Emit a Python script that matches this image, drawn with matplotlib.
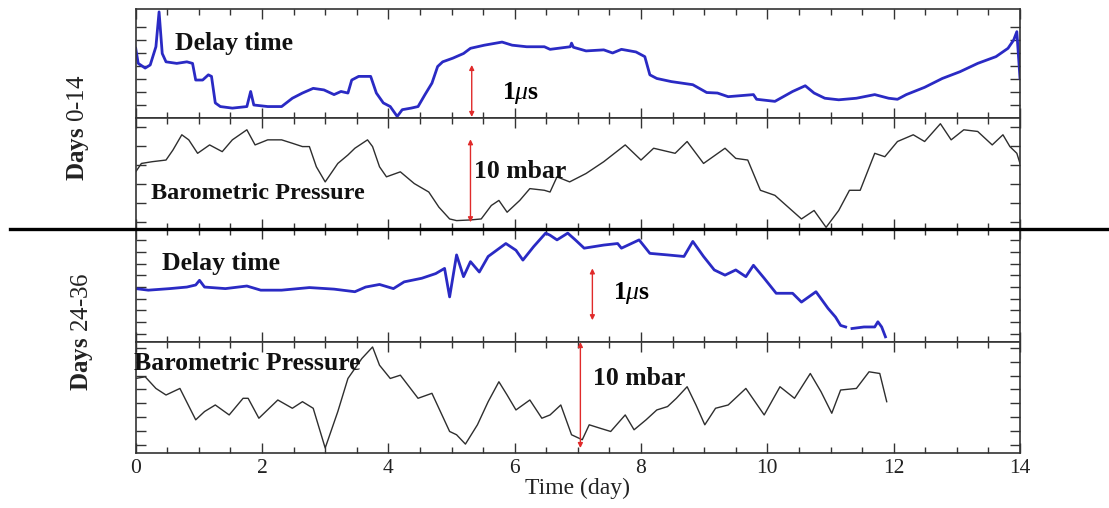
import numpy as np
import matplotlib
matplotlib.use("Agg")
import matplotlib.pyplot as plt
from matplotlib.lines import Line2D
from matplotlib.ticker import MultipleLocator

plt.rcParams['font.family'] = ['Liberation Serif', 'DejaVu Serif']
plt.rcParams['mathtext.fontset'] = 'custom'
plt.rcParams['mathtext.rm'] = 'Liberation Serif'
plt.rcParams['mathtext.bf'] = 'Liberation Serif:bold'
plt.rcParams['mathtext.it'] = 'Liberation Serif:italic'

# ---------------- data (days, relative units) ----------------
# Panel 1: delay time, days 0-14 (microseconds, relative)
d1_t = [0, 0.04, 0.15, 0.23, 0.32, 0.37, 0.42, 0.48, 0.65, 0.81, 0.90, 0.95, 1.06, 1.15, 1.20,
        1.26, 1.34, 1.53, 1.76, 1.82, 1.87, 2.09, 2.31, 2.48, 2.64, 2.81, 2.98, 3.14, 3.25, 3.36,
        3.42, 3.53, 3.72, 3.81, 3.92, 4.03, 4.14, 4.22, 4.36, 4.47, 4.58, 4.69, 4.78, 4.86, 5.02,
        5.19, 5.30, 5.52, 5.80, 5.96, 6.19, 6.47, 6.56, 6.88, 6.90, 6.93, 7.13, 7.41, 7.55, 7.69,
        7.92, 8.06, 8.14, 8.25, 8.48, 8.82, 9.04, 9.21, 9.38, 9.78, 9.83, 10.12, 10.40, 10.60,
        10.74, 10.91, 11.13, 11.41, 11.70, 11.92, 12.06, 12.20, 12.49, 12.77, 13.05, 13.33,
        13.62, 13.81, 13.90, 13.95, 14.0]
d1_v = [1.34, 1.05, 0.96, 1.02, 1.37, 2.04, 1.24, 1.08, 1.05, 1.08, 1.05, 0.73, 0.73, 0.83, 0.80,
        0.29, 0.22, 0.19, 0.22, 0.51, 0.25, 0.22, 0.22, 0.38, 0.48, 0.57, 0.54, 0.45, 0.51, 0.48,
        0.73, 0.80, 0.80, 0.48, 0.29, 0.22, 0.03, 0.16, 0.19, 0.22, 0.45, 0.67, 0.99, 1.08, 1.15,
        1.24, 1.34, 1.40, 1.46, 1.40, 1.37, 1.37, 1.32, 1.37, 1.44, 1.36, 1.29, 1.31, 1.25, 1.32,
        1.27, 1.18, 0.83, 0.76, 0.70, 0.64, 0.49, 0.48, 0.41, 0.45, 0.36, 0.32, 0.51, 0.62,
        0.48, 0.38, 0.35, 0.38, 0.45, 0.38, 0.36, 0.45, 0.59, 0.76, 0.89, 1.05,
        1.18, 1.34, 1.50, 1.66, 0.76]

# Panel 2: barometric pressure, days 0-14 (mbar, relative)
p1_t = [0, 0.09, 0.26, 0.48, 0.59, 0.73, 0.84, 0.98, 1.17, 1.37, 1.53, 1.76, 1.89, 2.09, 2.31,
        2.48, 2.64, 2.75, 2.86, 3.00, 3.20, 3.36, 3.47, 3.67, 3.75, 3.86, 3.97, 4.19, 4.41, 4.64,
        4.80, 4.97, 5.08, 5.30, 5.47, 5.63, 5.75, 5.88, 6.08, 6.24, 6.47, 6.56, 6.67, 6.87, 7.13,
        7.41, 7.75, 8.00, 8.20, 8.54, 8.73, 8.99, 9.33, 9.50, 9.69, 9.89, 10.12, 10.54, 10.74,
        10.93, 11.13, 11.30, 11.47, 11.70, 11.86, 12.06, 12.31, 12.49, 12.74, 12.91, 13.11,
        13.33, 13.56, 13.73, 13.84, 13.95, 14.0]
p1_v = [6.88, 7.89, 8.10, 8.30, 9.51, 11.34, 10.73, 9.11, 10.12, 9.31, 10.73, 11.94, 10.12, 10.73,
        10.73, 10.32, 9.92, 9.92, 7.49, 5.67, 7.89, 8.91, 9.72, 10.73, 9.92, 7.49, 6.28, 6.88,
        5.47, 4.45, 2.63, 1.21, 1.01, 1.09, 1.21, 2.83, 3.44, 2.02, 3.44, 4.86, 4.66, 4.45, 6.28,
        5.67, 6.68, 8.10, 10.12, 8.30, 9.72, 9.11, 10.53, 7.89, 9.72, 8.50, 8.30, 4.66, 4.05,
        1.21, 2.23, 0.20, 2.23, 4.66, 4.66, 9.11, 8.70, 10.53, 11.34, 10.53, 12.67, 10.73,
        11.94, 11.74, 10.12, 11.34, 9.92, 9.11, 7.89]

# Panel 3: delay time, days 24-36 (microseconds, relative); NaN = data gap
d2_t = [0, 0.20, 0.54, 0.81, 0.95, 1.01, 1.09, 1.42, 1.76, 1.98, 2.31, 2.75, 3.14, 3.47, 3.64,
        3.86, 4.08, 4.25, 4.53, 4.75, 4.89, 4.97, 5.08, 5.19, 5.30, 5.44, 5.58, 5.86, 6.02, 6.13,
        6.30, 6.49, 6.56, 6.67, 6.84, 6.96, 7.10, 7.41, 7.63, 7.69, 7.97, 8.14, 8.42, 8.68, 8.82,
        8.99, 9.16, 9.33, 9.50, 9.66, 9.78, 9.95, 10.14, 10.40, 10.54, 10.77, 10.96, 11.08,
        11.16, 11.24, 11.29, 11.34, 11.53, 11.70, 11.75, 11.81, 11.87]
d2_v = [1.03, 1.00, 1.03, 1.06, 1.10, 1.19, 1.06, 1.03, 1.08, 1.00, 1.00, 1.05, 1.02, 0.97, 1.06,
        1.11, 1.03, 1.16, 1.23, 1.32, 1.42, 0.87, 1.68, 1.26, 1.55, 1.35, 1.65, 1.90, 1.77, 1.58,
        1.84, 2.10, 2.06, 1.97, 2.10, 1.97, 1.81, 1.87, 1.90, 1.81, 1.97, 1.71, 1.68, 1.65, 1.94,
        1.65, 1.39, 1.29, 1.39, 1.26, 1.48, 1.23, 0.94, 0.94, 0.77, 0.97, 0.65, 0.48,
        0.32, 0.29, np.nan, 0.26, 0.29, 0.29, 0.39, 0.29, 0.10]

# Panel 4: barometric pressure, days 24-36 (mbar, relative)
p2_t = [0, 0.15, 0.32, 0.48, 0.70, 0.95, 1.09, 1.26, 1.48, 1.70, 1.78, 1.95, 2.25, 2.48, 2.64,
        2.81, 3.00, 3.20, 3.36, 3.58, 3.75, 3.86, 4.03, 4.19, 4.47, 4.69, 4.97, 5.08, 5.22, 5.41,
        5.58, 5.75, 5.88, 6.02, 6.24, 6.43, 6.56, 6.73, 6.90, 7.07, 7.18, 7.35, 7.52, 7.75, 7.89,
        8.08, 8.25, 8.42, 8.56, 8.73, 8.87, 9.01, 9.18, 9.38, 9.66, 9.95, 10.20, 10.43, 10.68,
        10.85, 11.02, 11.16, 11.41, 11.61, 11.78, 11.89]
p2_v = [7.03, 7.19, 6.09, 5.47, 6.09, 3.13, 3.91, 4.53, 3.59, 5.16, 5.16, 3.28, 5.00, 4.22, 4.84,
        4.22, 0.47, 3.91, 7.03, 8.91, 10.0, 8.28, 7.03, 7.34, 5.16, 5.63, 2.03, 1.72, 0.84, 2.66,
        4.84, 6.72, 5.47, 4.06, 5.00, 3.28, 3.59, 4.53, 1.72, 1.25, 2.66, 2.34, 2.03, 3.59, 2.19,
        3.13, 4.06, 4.38, 5.16, 6.25, 4.53, 2.66, 4.22, 4.53, 6.09, 3.59, 6.25, 5.16, 7.50,
        5.78, 3.75, 5.94, 6.09, 7.66, 7.50, 4.84]

# ---------------- figure ----------------
W, H = 1109, 508
fig = plt.figure(figsize=(W / 100, H / 100), dpi=100)

left = 135.7 / W
width = (1020 - 135.7) / W
def rect(top_px, bot_px):
    return [left, 1 - bot_px / H, width, (bot_px - top_px) / H]

ax1 = fig.add_axes(rect(9.3, 118))
ax2 = fig.add_axes(rect(118, 229))
ax3 = fig.add_axes(rect(229, 342))
ax4 = fig.add_axes(rect(342, 453))

blue = '#2a2ac4'
gray = '#2e2e2e'
red = '#e02a2a'

ax1.plot(d1_t, d1_v, color=blue, lw=2.0)
ax2.plot(p1_t, p1_v, color=gray, lw=1.0)
ax3.plot(d2_t, d2_v, color=blue, lw=2.0)
ax4.plot(p2_t, p2_v, color=gray, lw=1.0)

ax1.set_ylim(0, 2.09)
ax2.set_ylim(0, 13.36)
ax3.set_ylim(0, 2.18)
ax4.set_ylim(0, 10.47)

ax1.set_yticks(np.arange(0.25, 2.0, 0.25))
ax2.set_yticks(np.arange(0.8, 13.3, 2.3))
ax3.set_yticks(np.arange(0.16, 2.1, 0.225))
ax4.set_yticks(np.arange(0.8, 10.4, 1.3))

for ax in (ax1, ax2, ax3, ax4):
    ax.set_xlim(0, 14)
    ax.xaxis.set_major_locator(MultipleLocator(2))
    ax.xaxis.set_minor_locator(MultipleLocator(0.5))
    ax.tick_params(which='major', axis='x', direction='in', top=True, bottom=True,
                   length=7, width=1.0, color='#333333')
    ax.tick_params(which='minor', axis='x', direction='in', top=True, bottom=True,
                   length=4, width=1.0, color='#333333')
    ax.tick_params(axis='y', direction='in', left=True, right=True, length=7,
                   width=1.0, color='#333333', labelleft=False)
    for s in ax.spines.values():
        s.set_color('#333333')
        s.set_linewidth(1.2)
    if ax is not ax4:
        ax.tick_params(axis='x', labelbottom=False)

ax4.tick_params(axis='x', labelsize=15.5, pad=4, labelcolor='#222222')
ax4.set_xlabel('Time (day)', fontsize=17, labelpad=0, color='#222222')

# labels inside panels
tkw = dict(ha='left', va='center', fontweight='bold', color='#111111')
ax1.text(0.63, 1.43, 'Delay time', fontsize=18.5, **tkw)
ax2.text(0.25, 4.25, 'Barometric Pressure', fontsize=17.5, **tkw)
ax3.text(0.41, 1.52, 'Delay time', fontsize=18.5, **tkw)
ax4.text(-0.03, 8.45, 'Barometric Pressure', fontsize=18.5, zorder=10, **tkw)

ax1.text(5.80, 0.48, r'$\mathbf{1}\mu\mathbf{s}$', fontsize=18.5, ha='left', va='center')
ax3.text(7.55, 0.94, r'$\mathbf{1}\mu\mathbf{s}$', fontsize=18.5, ha='left', va='center')
ax2.text(5.36, 6.9, '10 mbar', fontsize=18.5, **tkw)
ax4.text(7.24, 7.0, '10 mbar', fontsize=18.5, **tkw)

def varrow(ax, x, y0, y1):
    ax.annotate('', xy=(x, y1), xytext=(x, y0),
                arrowprops=dict(arrowstyle='<|-|>', color=red, lw=1.0,
                                mutation_scale=7, shrinkA=0, shrinkB=0),
                annotation_clip=False)

varrow(ax1, 5.32, 0.02, 1.02)
varrow(ax2, 5.30, 0.81, 10.8)
varrow(ax3, 7.23, 0.42, 1.42)
varrow(ax4, 7.04, 0.47, 10.47)

# left-side group labels
fig.text(78 / W, 1 - 128 / H, r'$\mathbf{Days}$ 0-14', rotation=90, fontsize=18,
         ha='center', va='center', color='#222222')
fig.text(82 / W, 1 - 332 / H, r'$\mathbf{Days}$ 24-36', rotation=90, fontsize=18,
         ha='center', va='center', color='#222222')

# separator line between the two periods
fig.add_artist(Line2D([10 / W, 1.0], [1 - 229 / H, 1 - 229 / H], color='black', lw=2.4))

fig.savefig('out.png', dpi=100, facecolor='white')
